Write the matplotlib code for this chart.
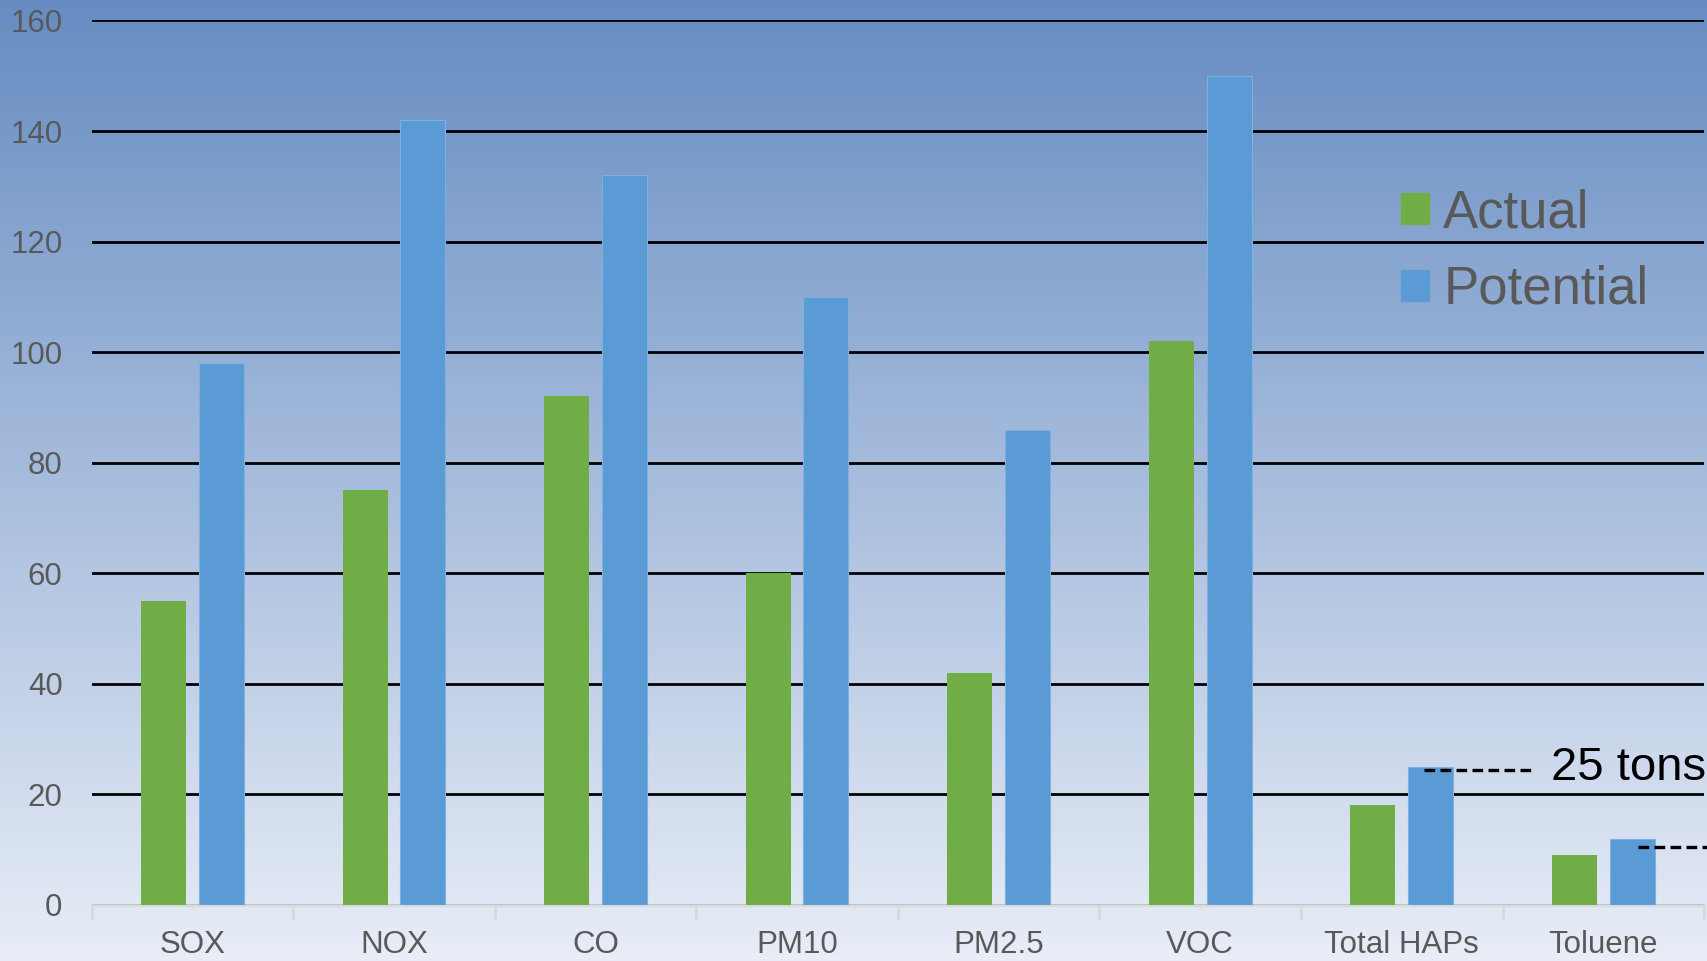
import numpy as np
import matplotlib.pyplot as plt
from matplotlib.patches import Patch

categories = ['SOX', 'NOX', 'CO', 'PM10', 'PM2.5', 'VOC', 'Total HAPs', 'Toluene']
actual = [55, 75, 92, 60, 42, 102, 18, 9]
potential = [98, 142, 132, 110, 86, 150, 25, 12]
yticks = [0, 20, 40, 60, 80, 100, 120, 140, 160]

green = '#70AD47'
blue = '#5B9BD5'
grey_text = '#595959'

plt.rcParams['font.family'] = ['Liberation Sans', 'DejaVu Sans']

fig = plt.figure(figsize=(17.08, 9.61), dpi=100)

# gradient background
bg = fig.add_axes([0, 0, 1, 1], zorder=0)
top = np.array([0.40, 0.55, 0.76])
bottom = np.array([0.91, 0.93, 0.97])
t = np.linspace(0, 1, 256)[:, None]
grad = top[None, :] * (1 - t) + bottom[None, :] * t
bg.imshow(grad[:, None, :], aspect='auto', extent=[0, 1, 0, 1])
bg.axis('off')

ax = fig.add_axes([0.0537, 0.0583, 0.9440, 0.9204], zorder=1)
ax.set_facecolor('none')

x = np.arange(len(categories))
w = 0.223
off = 0.143
ax.bar(x - off, actual, w, color=green, zorder=3, label='Actual')
ax.bar(x + off, potential, w, color=blue, edgecolor='#7fb0df', linewidth=0.8, zorder=3, label='Potential')

ax.set_ylim(0, 160)
ax.set_xlim(-0.5, len(categories) - 0.5)
ax.set_yticks(yticks)
ax.set_yticklabels([str(v) for v in yticks], fontsize=22.5, color=grey_text)
ax.tick_params(axis='y', length=0, pad=21)
ax.yaxis.grid(True, color='black', linewidth=2.0, zorder=1)
ax.set_axisbelow(True)

ax.set_xticks(x)
ax.set_xticklabels(categories, fontsize=22.5, color=grey_text)
ax.set_xticks(np.arange(len(categories) + 1) - 0.5, minor=True)
ax.tick_params(axis='x', which='major', length=0, pad=18)
ax.tick_params(axis='x', which='minor', length=10, width=2, color='#d9d9d9')

for s in ['top', 'right', 'left']:
    ax.spines[s].set_visible(False)
ax.spines['bottom'].set_color('#d9d9d9')
ax.spines['bottom'].set_linewidth(2)

# threshold notes
ax.plot([6.11, 6.66], [24.4, 24.4], color='black', linewidth=2.4, dashes=(3.2, 1.6), zorder=4)
ax.text(6.74, 24.8, '25 tons', fontsize=34, color='black', va='center', ha='left', zorder=4, clip_on=False)
ax.plot([7.17, 7.7], [10.5, 10.5], color='black', linewidth=2.4, dashes=(3.2, 1.6), zorder=4, clip_on=False)

handles = [Patch(color=green, label='Actual'), Patch(color=blue, label='Potential')]
leg = ax.legend(handles=handles, loc='upper left', bbox_to_anchor=(0.812, 0.81), frameon=False,
                fontsize=38, handlelength=0.53, handleheight=0.53, handletextpad=0.27,
                labelspacing=0.5, borderpad=0, borderaxespad=0)
leg.set_zorder(6)
for txt in leg.get_texts():
    txt.set_color(grey_text)

fig.savefig('out.png', dpi=100)
